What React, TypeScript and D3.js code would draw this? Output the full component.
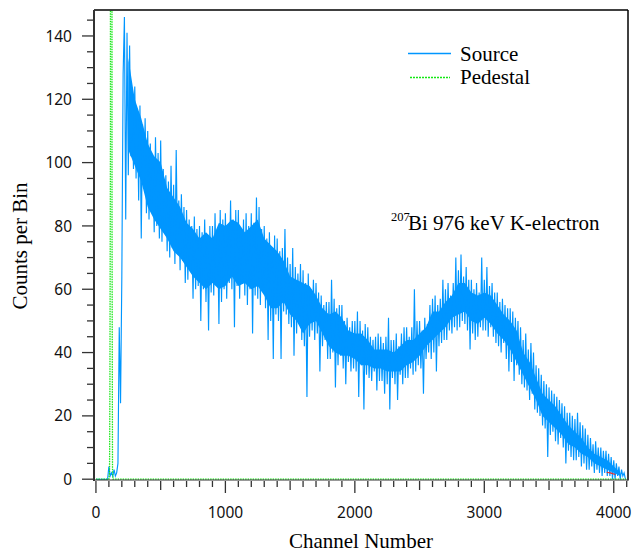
import React from "react";
import * as d3 from "d3";

// ---- Data ----
// Source spectrum: counts sampled every SOURCE_STEP channels, starting at channel 0
const SOURCE_STEP = 10;
const sourceCounts = [
  0, 0, 0, 0, 0, 0, 0, 0, 0, 0,
  4, 1, 2, 1, 3, 1, 2, 5, 48, 24,
  64, 128, 146, 82, 141, 96, 137, 102, 120, 98,
  124, 95, 116, 88, 118, 76, 112, 92, 114, 84,
  110, 82, 106, 87, 100, 78, 108, 80, 103, 76,
  107, 75, 98, 80, 96, 72, 94, 70, 99, 73,
  93, 68, 104, 72, 88, 66, 90, 69, 86, 62,
  85, 63, 82, 66, 80, 57, 83, 60, 79, 61,
  80, 50, 78, 60, 82, 56, 76, 47, 80, 59,
  80, 58, 84, 62, 78, 49, 85, 56, 82, 60,
  84, 57, 80, 62, 88, 60, 82, 48, 85, 61,
  85, 57, 79, 63, 82, 58, 84, 55, 80, 60,
  84, 46, 81, 58, 89, 57, 86, 55, 79, 60,
  80, 54, 76, 44, 78, 50, 73, 38, 77, 52,
  76, 50, 72, 38, 73, 53, 79, 52, 70, 49,
  68, 48, 73, 39, 67, 46, 65, 50, 68, 44,
  66, 42, 62, 26, 65, 45, 60, 47, 63, 44,
  62, 46, 59, 34, 58, 42, 55, 44, 56, 38,
  56, 38, 63, 40, 57, 29, 54, 36, 55, 39,
  55, 35, 50, 30, 51, 37, 48, 34, 50, 35,
  50, 34, 53, 26, 50, 36, 47, 22, 49, 33,
  48, 32, 45, 31, 44, 34, 45, 28, 46, 31,
  45, 31, 43, 27, 45, 30, 51, 22, 44, 32,
  44, 30, 46, 25, 42, 33, 46, 30, 48, 32,
  48, 32, 45, 35, 48, 33, 60, 34, 50, 36,
  50, 35, 47, 27, 51, 38, 49, 40, 55, 38,
  57, 40, 58, 34, 55, 42, 57, 43, 63, 44,
  60, 44, 62, 47, 58, 46, 62, 48, 70, 47,
  66, 48, 71, 50, 64, 49, 67, 47, 63, 41,
  63, 46, 60, 44, 62, 45, 59, 48, 70, 47,
  63, 47, 67, 45, 61, 48, 62, 45, 59, 43,
  59, 42, 56, 40, 57, 43, 55, 38, 54, 34,
  54, 37, 53, 31, 51, 36, 50, 33, 48, 30,
  44, 29, 46, 28, 41, 25, 43, 27, 40, 22,
  36, 21, 35, 20, 33, 17, 31, 16, 30, 7,
  29, 14, 28, 15, 27, 12, 26, 11, 25, 13,
  24, 10, 23, 5, 21, 9, 21, 7, 20, 6,
  19, 6, 21, 7, 18, 4, 17, 5, 16, 3,
  14, 3, 13, 4, 11, 2, 12, 3, 10, 2,
  10, 1, 9, 2, 9, 1, 8, 1, 7, 0,
  6, 0, 5, 1, 4, 0, 3, 1, 2, 0,
];

// Dense core of the source band (where the bins are packed solid), every BAND_STEP channels
const BAND_START = 250;
const BAND_STEP = 50;
const bandHigh = [
  133, 120, 114, 106, 102, 100, 92, 89, 86, 81,
  79, 76, 78, 76, 81, 80, 82, 81, 78, 80,
  82, 76, 74, 72, 69, 64, 63, 62, 61, 58,
  54, 52, 53, 51, 47, 46, 46, 44, 41, 41,
  41, 40, 42, 44, 44, 46, 48, 53, 53, 56,
  58, 62, 62, 59, 58, 59, 58, 55, 52, 50,
  47, 40, 37, 32, 27, 25, 23, 20, 17, 15,
  13, 10, 8, 7, 6, 4, 2,
];
const bandLow = [
  104, 99, 94, 86, 82, 79, 76, 72, 70, 67,
  64, 62, 60, 62, 60, 61, 64, 61, 62, 60,
  61, 58, 54, 54, 56, 52, 50, 46, 49, 50,
  46, 42, 40, 39, 39, 38, 36, 36, 35, 35,
  34, 34, 34, 36, 37, 39, 42, 44, 46, 48,
  51, 52, 53, 50, 49, 51, 49, 46, 44, 41,
  37, 33, 29, 25, 20, 18, 16, 14, 11, 10,
  8, 7, 5, 4, 3, 2, 1,
];

// Pedestal
const pedestalChannels = [0, 100, 105, 108, 112, 118, 124, 128, 132, 4096];
const pedestalCounts = [0, 0, 2, 30, 108, 5000, 85, 3, 0, 0];

// Small red trace near the end
const fitChannels = [3945, 3980, 4012];
const fitCounts = [2.2, 1.9, 1.5];

const yMajorTicks = [0, 20, 40, 60, 80, 100, 120, 140];
const xMajorTicks = [0, 1000, 2000, 3000, 4000];

const legendLabels = ["Source", "Pedestal"];
const annotationIsotope = "207";
const annotationText = "Bi 976 keV K-electron";
const xTitle = "Channel Number";
const yTitle = "Counts per Bin";

// ---- Layout ----
const W = 634;
const H = 554;
const L = 94;
const R = 628;
const T = 10;
const B = 480;

const BLUE = "#0096ff";
const GREEN = "#14e814";
const AXIS = "#333333";
const SANS = "'Noto Sans', 'Open Sans', sans-serif";
const SERIF = "'Liberation Serif', 'Times New Roman', serif";

export default function App() {
  const x = d3.scaleLinear().domain([-15, 4110]).range([L, R]);
  const y = d3.scaleLinear().domain([0, 148.2]).range([479.2, T]);

  const sourcePts: [number, number][] = sourceCounts.map((c, i) => [i * SOURCE_STEP, c]);
  const line = d3
    .line<[number, number]>()
    .x((d) => x(d[0]))
    .y((d) => y(d[1]));
  const bandPts = bandHigh.map((hi, i) => ({ c: BAND_START + i * BAND_STEP, lo: bandLow[i], hi }));
  const area = d3
    .area<{ c: number; lo: number; hi: number }>()
    .x((d) => x(d.c))
    .y0((d) => y(d.lo))
    .y1((d) => y(d.hi));
  const pedPts: [number, number][] = pedestalChannels.map((c, i) => [c, pedestalCounts[i]]);
  const fitPts: [number, number][] = fitChannels.map((c, i) => [c, fitCounts[i]]);

  const yMinor = d3.range(0, 146, 5).filter((v) => v % 20 !== 0);
  const xMinor = d3.range(0, 4101, 100).filter((v) => v % 1000 !== 0);

  return (
    <svg width={W} height={H} style={{ display: "block", position: "absolute", left: 0, top: 0 }}>
      <rect width={W} height={H} fill="#fff" />
      <defs>
        <clipPath id="plotClip">
          <rect x={L} y={T} width={R - L} height={B - T} />
        </clipPath>
      </defs>

      <g clipPath="url(#plotClip)">
        <path d={area(bandPts) || ""} fill={BLUE} stroke="none" />
        <path d={line(sourcePts) || ""} fill="none" stroke={BLUE} strokeWidth={1.15} strokeLinejoin="miter" />
        <path d={line(pedPts) || ""} fill="none" stroke={GREEN} strokeWidth={1.3} strokeDasharray="1.5,1" />
        <path d={line(fitPts) || ""} fill="none" stroke="#e03030" strokeWidth={1.2} />
      </g>

      {/* frame */}
      <line x1={L} x2={R} y1={T} y2={T} stroke="#000" strokeWidth={1.5} />
      <line x1={R} x2={R} y1={T} y2={B + 0.5} stroke="#000" strokeWidth={1.5} />
      <line x1={L} x2={L} y1={T} y2={B + 1} stroke={AXIS} strokeWidth={2} />
      <line x1={L} x2={R} y1={B} y2={B} stroke={AXIS} strokeWidth={1.2} />

      {/* y axis ticks */}
      {yMajorTicks.map((v) => (
        <g key={"ym" + v}>
          <line x1={L - 12} x2={L} y1={y(v)} y2={y(v)} stroke={AXIS} strokeWidth={1.3} />
          <text x={L - 22} y={y(v)} dy="0.36em" textAnchor="end" fontFamily={SANS} fontSize={15.5} fill="#111">
            {v}
          </text>
        </g>
      ))}
      {yMinor.map((v) => (
        <line key={"yn" + v} x1={L - 7} x2={L} y1={y(v)} y2={y(v)} stroke={AXIS} strokeWidth={1.3} />
      ))}

      {/* x axis ticks */}
      {xMajorTicks.map((v) => (
        <g key={"xm" + v}>
          <line x1={x(v)} x2={x(v)} y1={B + 1} y2={B + 13} stroke={AXIS} strokeWidth={1.3} />
          <text x={x(v)} y={518} textAnchor="middle" fontFamily={SANS} fontSize={15.5} fill="#111">
            {v}
          </text>
        </g>
      ))}
      {xMinor.map((v) => (
        <line
          key={"xn" + v}
          x1={x(v)}
          x2={x(v)}
          y1={B + 1}
          y2={B + (v % 500 === 0 ? 10 : 7)}
          stroke={AXIS}
          strokeWidth={1.3}
        />
      ))}

      {/* axis titles */}
      <text x={361} y={548} textAnchor="middle" fontFamily={SERIF} fontSize={21} fill="#000">
        {xTitle}
      </text>
      <text
        transform={`translate(27,246) rotate(-90)`}
        textAnchor="middle"
        fontFamily={SERIF}
        fontSize={21}
        fill="#000"
      >
        {yTitle}
      </text>

      {/* legend */}
      <line x1={408} x2={451} y1={53.5} y2={53.5} stroke={BLUE} strokeWidth={1.5} />
      <text x={460} y={61} fontFamily={SERIF} fontSize={21} fill="#000">
        {legendLabels[0]}
      </text>
      <line x1={410} x2={450} y1={77.5} y2={77.5} stroke={GREEN} strokeWidth={1.5} strokeDasharray="2,1" />
      <text x={460} y={84} fontFamily={SERIF} fontSize={21} fill="#000">
        {legendLabels[1]}
      </text>

      {/* annotation */}
      <text x={391} y={221} fontFamily={SERIF} fontSize={12.5} fill="#000">
        {annotationIsotope}
      </text>
      <text x={408} y={230} fontFamily={SERIF} fontSize={21} fill="#000">
        {annotationText}
      </text>
    </svg>
  );
}
